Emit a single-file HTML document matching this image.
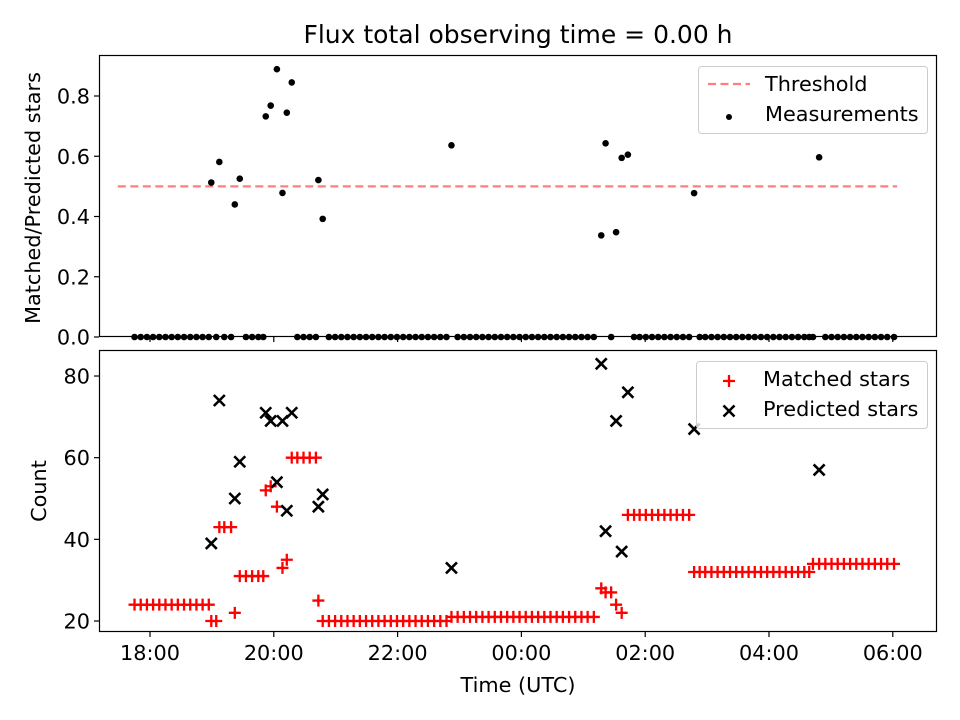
<!DOCTYPE html>
<html><head><meta charset="utf-8"><style>
html,body{margin:0;padding:0;background:#fff;}
svg{display:block;font-family:"DejaVu Sans","Liberation Sans",sans-serif;}
</style></head><body>
<svg id="chart" width="960" height="720" viewBox="0 0 960 720" xmlns="http://www.w3.org/2000/svg">
<rect width="960" height="720" fill="#fff"/>
<text x="518" y="43" text-anchor="middle" font-size="25">Flux total observing time = 0.00 h</text>
<g id="topPanel"></g>
<g id="botPanel"></g>
<text x="518" y="692" text-anchor="middle" font-size="20.8">Time (UTC)</text>
<text transform="translate(40,198) rotate(-90)" text-anchor="middle" font-size="20.8">Matched/Predicted stars</text>
<text transform="translate(46,491) rotate(-90)" text-anchor="middle" font-size="20.8">Count</text>
<g id="legends"></g>
</svg>
<script>
// hours after 18:00 UTC
const times = [-0.25,-0.15,-0.05,0.05,0.15,0.25,0.35,0.45,0.55,0.65,0.75,0.85,0.95,
0.99,1.07,1.12,1.2,1.31,1.37,1.45,1.55,1.65,1.75,1.83,1.87,1.95,2.05,2.14,2.21,
2.29,2.38,2.48,2.58,2.68,2.72,
2.79,2.89,2.99,3.09,3.19,3.29,3.39,3.49,3.59,3.69,3.79,3.89,3.99,4.09,4.19,4.29,4.39,4.49,4.59,4.69,4.79,
4.87,4.97,5.07,5.17,5.27,5.37,5.47,5.57,5.67,5.77,5.87,5.97,6.07,6.17,6.27,6.37,6.47,6.57,6.67,6.77,6.87,6.97,7.07,7.17,
7.29,7.36,7.45,7.53,7.62,
7.72,7.82,7.91,8.01,8.11,8.21,8.31,8.41,8.51,8.61,8.71,
8.79,8.88,8.97,9.07,9.17,9.27,9.37,9.47,9.57,9.67,9.77,9.87,9.97,10.07,10.17,10.27,10.37,10.47,10.57,10.65,
10.71,10.81,10.91,11.01,11.11,11.21,11.31,11.41,11.51,11.61,11.71,11.81,11.91,12.02];
const matched = [24,24,24,24,24,24,24,24,24,24,24,24,24,
20,20,43,43,43,22,31,31,31,31,31,52,53,48,33,35,
60,60,60,60,60,25,
20,20,20,20,20,20,20,20,20,20,20,20,20,20,20,20,20,20,20,20,20,
21,21,21,21,21,21,21,21,21,21,21,21,21,21,21,21,21,21,21,21,21,21,21,21,
28,27,27,24,22,
46,46,46,46,46,46,46,46,46,46,46,
32,32,32,32,32,32,32,32,32,32,32,32,32,32,32,32,32,32,32,32,
34,34,34,34,34,34,34,34,34,34,34,34,34,34];
const predicted = [0,0,0,0,0,0,0,0,0,0,0,0,0,
39,0,74,0,0,50,59,0,0,0,0,71,69,54,69,47,
71,0,0,0,0,48,
51,0,0,0,0,0,0,0,0,0,0,0,0,0,0,0,0,0,0,0,0,
33,0,0,0,0,0,0,0,0,0,0,0,0,0,0,0,0,0,0,0,0,0,0,0,
83,42,0,69,37,
76,0,0,0,0,0,0,0,0,0,0,
67,0,0,0,0,0,0,0,0,0,0,0,0,0,0,0,0,0,0,0,0,
57,0,0,0,0,0,0,0,0,0,0,0,0,0];
const threshold = 0.5;
const thresholdRange = [-0.52, 12.07];
const xTickHours = [0,2,4,6,8,10,12];
const xTickLabels = ["18:00","20:00","22:00","00:00","02:00","04:00","06:00"];
const topTicks = [0.0,0.2,0.4,0.6,0.8];
const botTicks = [20,40,60,80];

const NS="http://www.w3.org/2000/svg";
const X0=99,X1=937;
const xs = t => 150 + t*61.9;
const yTop = v => 337 - v*301.25;
const yBot = c => 621 - (c-20)*4.083;
function mk(tag, attrs, parent){const e=document.createElementNS(NS,tag);for(const k in attrs)e.setAttribute(k,attrs[k]);parent.appendChild(e);return e;}
const topG=document.getElementById('topPanel'), botG=document.getElementById('botPanel');
const FS=20.8;

function frame(g, y0, y1, ticks, yf, fmt, showX){
  ticks.forEach(v=>{
    const y=yf(v);
    const l=mk('line',{x1:X0-5,x2:X0,y1:y,y2:y,stroke:'#000','stroke-width':1.2},g);
    
    
    const t=mk('text',{x:X0-9,y:y+7.5,'text-anchor':'end','font-size':FS},g);
    t.textContent=fmt(v);
    
    
  });
  xTickHours.forEach((h,i)=>{
    const x=xs(h);
    const l=mk('line',{x1:x,x2:x,y1:y1,y2:y1+5,stroke:'#000','stroke-width':1.2},g);
    
    
    if(showX){
      const t=mk('text',{x:x,y:y1+28,'text-anchor':'middle','font-size':FS},g);
      t.textContent=xTickLabels[i];
      
      
    }
  });
}

// top panel
const th=mk('line',{x1:xs(thresholdRange[0]),x2:xs(thresholdRange[1]),y1:yTop(threshold),y2:yTop(threshold),stroke:'#ff7f7f','stroke-width':2.2,'stroke-dasharray':'8,4.5'},topG);


times.forEach((t,i)=>{
  const r = predicted[i]>0 ? matched[i]/predicted[i] : 0;
  const c=mk('circle',{cx:xs(t),cy:yTop(r),r:3.3,fill:'#000'},topG);
  
  
});
frame(topG,55,337,topTicks,yTop,v=>v.toFixed(1),false);
mk('rect',{x:X0+0.5,y:55.5,width:X1-X0-1,height:281,fill:'none',stroke:'#000','stroke-width':1.2},topG);

// bottom panel
times.forEach((t,i)=>{
  const x=xs(t), y=yBot(matched[i]);
  const p=mk('path',{d:`M${x-6} ${y}h12M${x} ${y-6}v12`,stroke:'#f00','stroke-width':2.3,fill:'none'},botG);
  
  
});
times.forEach((t,i)=>{
  if(predicted[i]<=0) return;
  const x=xs(t), y=yBot(predicted[i]);
  const p=mk('path',{d:`M${x-5.5} ${y-5.5}l11 11M${x+5.5} ${y-5.5}l-11 11`,stroke:'#000','stroke-width':2.6,fill:'none'},botG);
  
  
});
frame(botG,350,632,botTicks,yBot,v=>String(v),true);
mk('rect',{x:X0+0.5,y:350.5,width:X1-X0-1,height:281,fill:'none',stroke:'#000','stroke-width':1.2},botG);

// legends (drawn last, on top)
const lg=document.getElementById('legends');
lg.innerHTML = `
<g>
<rect x="698.5" y="66.5" width="229" height="67" rx="3" fill="#fff" fill-opacity="0.8" stroke="#ccc" stroke-width="1"/>
<line x1="708" y1="84" x2="750" y2="84" stroke="#ff7f7f" stroke-width="2.2" stroke-dasharray="8,4.5"/>
<text x="765" y="91" font-size="20.8">Threshold</text>
<circle cx="729" cy="117" r="3" fill="#000"/>
<text x="765" y="121" font-size="20.8">Measurements</text>
</g>
<g>
<rect x="696.5" y="361.5" width="231" height="67" rx="3" fill="#fff" fill-opacity="0.8" stroke="#ccc" stroke-width="1"/>
<path d="M723 381h12M729 375v12" stroke="#f00" stroke-width="2.3"/>
<path d="M723.5 405.5l11 11M734.5 405.5l-11 11" stroke="#000" stroke-width="2.6"/>
<text x="763" y="386" font-size="20.8">Matched stars</text>
<text x="763" y="416" font-size="20.8">Predicted stars</text>
</g>`;
</script>
</body></html>
